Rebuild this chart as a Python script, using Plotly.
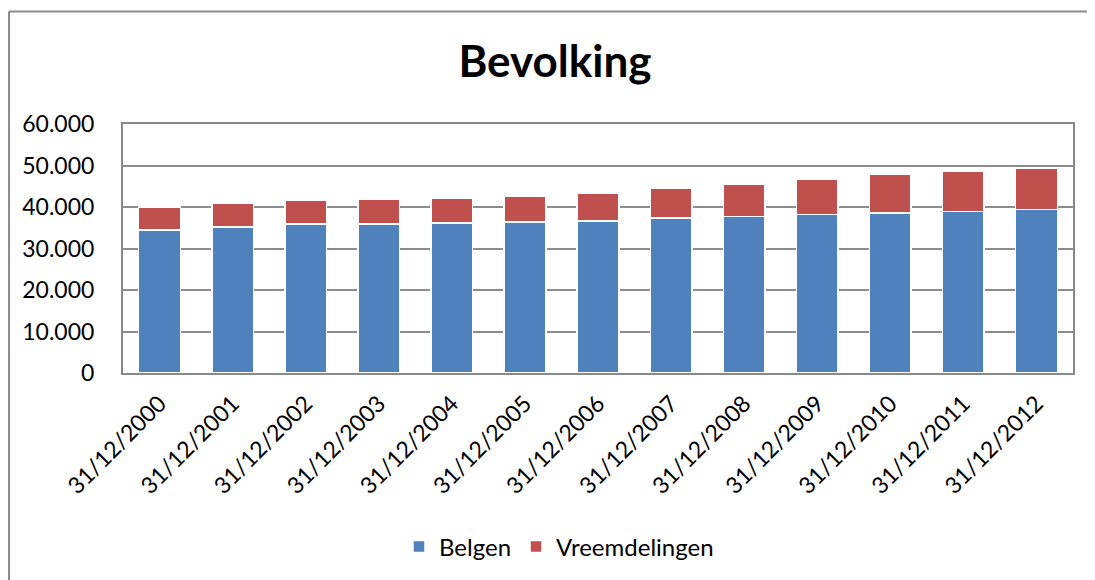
import plotly.graph_objects as go

categories = ["31/12/2000", "31/12/2001", "31/12/2002", "31/12/2003", "31/12/2004",
              "31/12/2005", "31/12/2006", "31/12/2007", "31/12/2008", "31/12/2009",
              "31/12/2010", "31/12/2011", "31/12/2012"]
belgen = [34400, 35200, 35900, 35900, 36200, 36400, 36600, 37400, 37700, 38200, 38500, 38900, 39400]
vreemdelingen = [5600, 5600, 5700, 5900, 5900, 6300, 6800, 7200, 7900, 8600, 9300, 9700, 9900]

FONT = "Lato, 'Open Sans', sans-serif"

fig = go.Figure()
fig.add_trace(go.Bar(x=categories, y=belgen, name="Belgen",
                     marker=dict(color="#4F81BD", line=dict(color="white", width=1.5))))
fig.add_trace(go.Bar(x=categories, y=vreemdelingen, name="Vreemdelingen",
                     marker=dict(color="#C0504D", line=dict(color="white", width=1.5))))

# page has an 8px body margin; work in page coordinates and shift
OFF = 8
W, H = 1095 - OFF, 580 - OFF
L, R, T, B = 123 - OFF, 1073 - OFF, 124 - OFF, 374 - OFF
pw, ph = R - L, B - T

def px_x(px):
    return (px - OFF - L) / pw

def px_y(py):
    return (B - (py - OFF)) / ph

border = dict(color="#8C8C8C", width=2)

fig.update_layout(
    width=W, height=H,
    barmode="stack", bargap=0.43,
    separators=",.",
    margin=dict(l=L, r=W - R, t=T, b=H - B),
    paper_bgcolor="white", plot_bgcolor="white",
    font=dict(family=FONT, size=23, color="black"),
    title=dict(text="<b>Bevolking</b>", x=px_x(555), xref="paper", xanchor="center",
               y=1 - (62 - OFF) / H, yanchor="middle",
               font=dict(family=FONT, size=44, color="black")),
    showlegend=True,
    legend=dict(orientation="h", x=px_x(559), xanchor="center", y=px_y(547), yanchor="middle",
                font=dict(family=FONT, size=24), itemwidth=30, traceorder="normal"),
    xaxis=dict(tickangle=-45, showgrid=False, showline=True, linecolor="#888888", linewidth=2,
               mirror=True, ticks="", tickfont=dict(size=23), ticklabelstandoff=6),
    yaxis=dict(range=[0, 60000], dtick=10000, tickformat=",d", showgrid=True,
               gridcolor="#8C8C8C", gridwidth=2, showline=True, linecolor="#888888",
               linewidth=2, mirror=True, ticks="", tickfont=dict(size=23), zeroline=False,
               ticklabelstandoff=22),
    shapes=[
        dict(type="line", xref="paper", yref="paper", x0=px_x(9), x1=px_x(9),
             y0=px_y(11), y1=px_y(620), line=border, layer="below"),
        dict(type="line", xref="paper", yref="paper", x0=px_x(9), x1=px_x(1110),
             y0=px_y(11), y1=px_y(11), line=border, layer="below"),
    ],
)

fig.write_html("out.html")
